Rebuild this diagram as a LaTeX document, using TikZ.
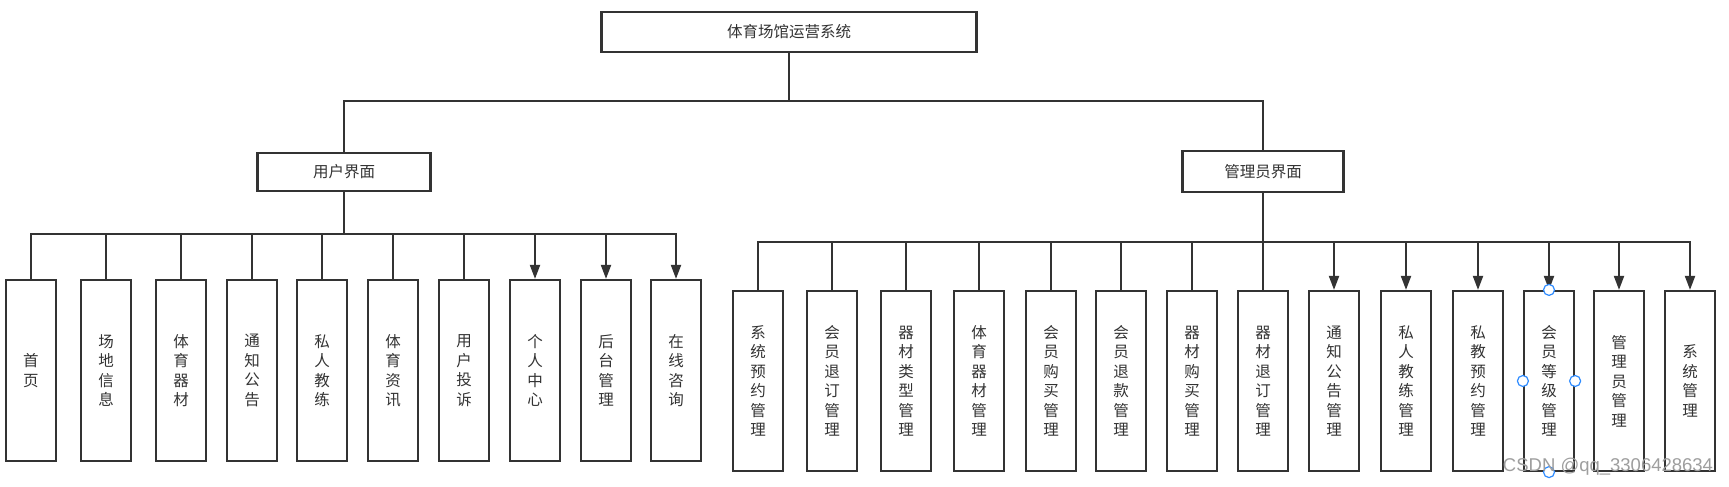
\documentclass[tikz,border=0pt]{standalone}
\usepackage{fontspec}
\setmainfont{Noto Sans CJK SC}
\newfontfamily\markfont{Liberation Sans}
\usepackage{tikz}
\usetikzlibrary{arrows.meta}
\usetikzlibrary{positioning}
\definecolor{linegray}{HTML}{333333}
\definecolor{handleblue}{HTML}{2F8CFF}
\tikzset{box/.style = {draw=linegray, line width=2.2pt, fill=white, text=linegray, inner sep=0, font=\fontsize{15.5}{19.5}\selectfont}}
\tikzset{leaf/.style = {box, minimum width=50pt, minimum height=180pt, align=center}}
\tikzset{link/.style = {draw=linegray, line width=2pt}}
\tikzset{arr/.style = {link, -{Triangle[length=14pt,width=10pt]}}}
\tikzset{handle/.style = {draw=handleblue, fill=white, circle, inner sep=0, minimum size=11pt, line width=1.2pt}}

\begin{document}
\begin{tikzpicture}[x=1pt,y=-1pt]
        \useasboundingbox (0,0) rectangle (1729,487);
        \node [box, minimum width=375pt, minimum height=40pt] (sys) at (789,32) {体育场馆运营系统};
        \node [box, minimum width=173pt, minimum height=38pt] (user) at (344,172) {用户界面};
        \node [box, minimum width=161pt, minimum height=41pt] (admin) at (1263,171.5) {管理员界面};
        \coordinate (sysbar) at (sys.south |- 0,101);
        \draw [link] (sys.south) -- (sysbar) -| (user.north);
        \draw [link] (sysbar) -| (admin.north);
        % user side
        \foreach \x/\lbl/\st [count=\i] in {31/{首\\页}/link, 106/{场\\地\\信\\息}/link, 181/{体\\育\\器\\材}/link, 252/{通\\知\\公\\告}/link, 322/{私\\人\\教\\练}/link, 393/{体\\育\\资\\讯}/link, 464/{用\\户\\投\\诉}/link, 535/{个\\人\\中\\心}/arr, 606/{后\\台\\管\\理}/arr, 676/{在\\线\\咨\\询}/arr}
        {
            \node [leaf, minimum height=181pt] (u\i) at (\x,370.5) {\lbl};
            \draw [\st] (user.south) -- (user.south |- 0,234) -| (u\i.north);
        }
        % admin side
        \foreach \x/\lbl/\st [count=\i] in {758/{系\\统\\预\\约\\管\\理}/link, 832/{会\\员\\退\\订\\管\\理}/link, 906/{器\\材\\类\\型\\管\\理}/link, 979/{体\\育\\器\\材\\管\\理}/link, 1051/{会\\员\\购\\买\\管\\理}/link, 1121/{会\\员\\退\\款\\管\\理}/link, 1192/{器\\材\\购\\买\\管\\理}/link, 1263/{器\\材\\退\\订\\管\\理}/link, 1334/{通\\知\\公\\告\\管\\理}/arr, 1406/{私\\人\\教\\练\\管\\理}/arr, 1478/{私\\教\\预\\约\\管\\理}/arr, 1549/{会\\员\\等\\级\\管\\理}/arr, 1619/{管\\理\\员\\管\\理}/arr, 1690/{系\\统\\管\\理}/arr}
        {
            \node [leaf] (a\i) at (\x,381) {\lbl};
            \draw [\st] (admin.south) -- (admin.south |- 0,242) -| (a\i.north);
        }
        \node [handle] (h1) at (a12.north) {};
        \node [handle] (h2) at (a12.south) {};
        \node [handle] (h3) at (a12.west) {};
        \node [handle] (h4) at (a12.east) {};
        \node [font=\markfont\fontsize{18.5}{20}\selectfont, text=black!38, inner sep=0] (mark) at (1608,467) {CSDN @qq\_3306428634};
    \end{tikzpicture}
\end{document}
